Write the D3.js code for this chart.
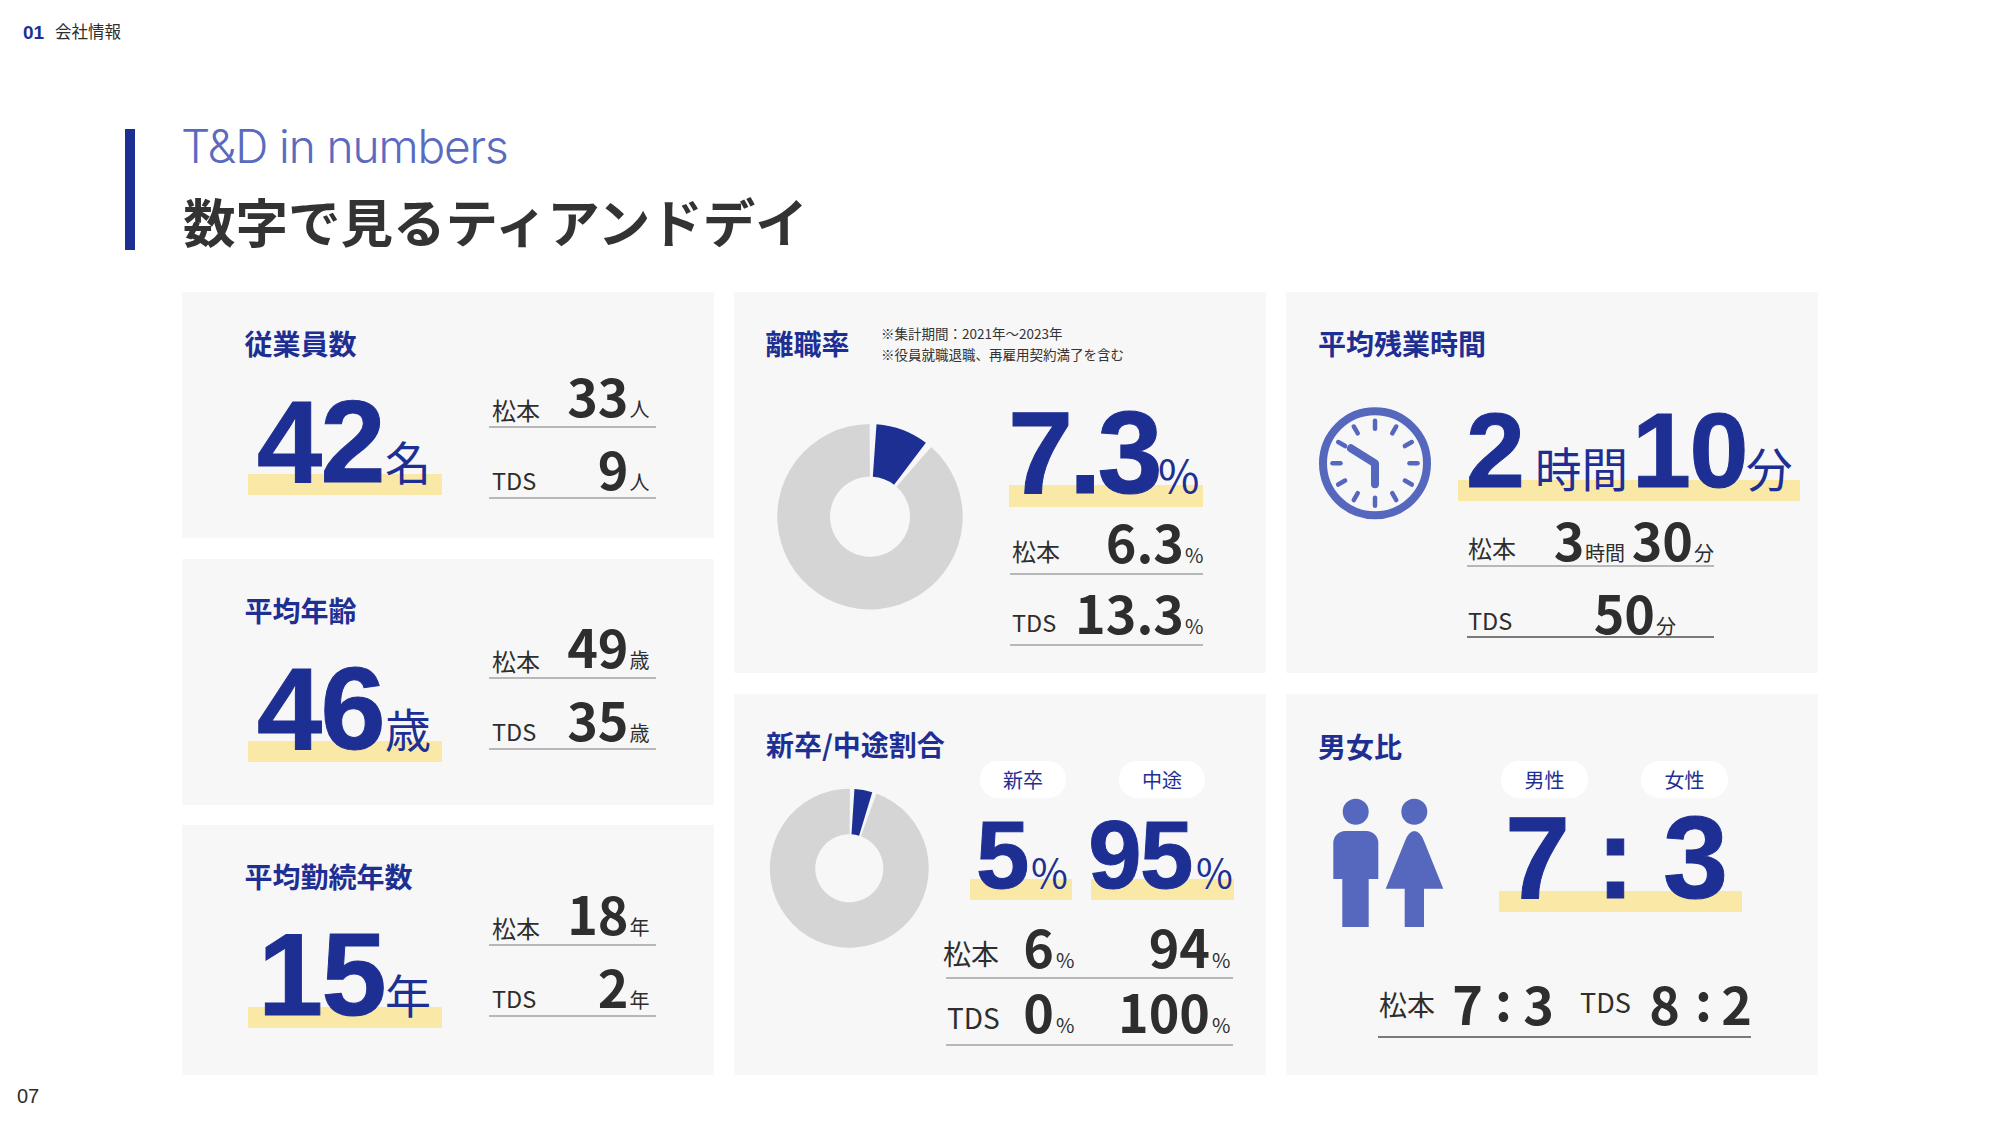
<!DOCTYPE html>
<html lang="ja">
<head>
<meta charset="utf-8">
<script src="https://cdn.jsdelivr.net/npm/d3@7"></script>
<style>
html,body{margin:0;padding:0;background:#fff;}
svg{display:block;}
</style>
</head>
<body>
<div id="chart"></div>
<script>
// ---- data ----
const sectionNumber = "01";
const sectionName = "会社情報";
const titleEn = "T&D in numbers";
const titleJa = "数字で見るティアンドデイ";
const pageNumber = "07";
const siteNames = ["松本", "TDS"];

const cardTitles = ["従業員数", "平均年齢", "平均勤続年数", "離職率", "新卒/中途割合", "平均残業時間", "男女比"];
const personCounts = [42, 33, 9];
const ageValues = [46, 49, 35];
const tenureValues = [15, 18, 2];
const statUnits = ["名", "人", "歳", "年"];

const turnoverNotes = ["※集計期間：2021年〜2023年", "※役員就職退職、再雇用契約満了を含む"];
const turnoverLabels = ["7.3", "6.3", "13.3"];
const turnoverSlices = [9.4, 90.6];

const hireTypes = ["新卒", "中途"];
const hireTotal = [5, 95];
const hireMatsumoto = [6, 94];
const hireTds = [0, 100];
const hireSlices = [3.7, 96.3];

const overtimeTotal = [2, 10];
const overtimeMatsumoto = [3, 30];
const overtimeTds = [50];
const overtimeUnits = ["時間", "分"];

const genderNames = ["男性", "女性"];
const genderTotal = [7, 3];
const genderMatsumoto = [7, 3];
const genderTds = [8, 2];

// ---- styles ----
const NAVY = "#1e2f94", ICON = "#5668bd", YELLOW = "#fae8a6", CARD = "#f7f7f7",
      GREY = "#d5d5d5", INK = "#2e2e2e", RULE = "#7a7a7a";
const HELV = "'Liberation Sans', Arial, sans-serif";
const CJK = "'Noto Sans CJK JP', 'Noto Sans', sans-serif";

const svg = d3.select("#chart").append("svg")
  .attr("width", 2000).attr("height", 1125).attr("viewBox", "0 0 2000 1125");
svg.append("rect").attr("width", 2000).attr("height", 1125).attr("fill", "#fff");

function rect(x0, y0, x1, y1, fill, rx) {
  return svg.append("rect").attr("x", x0).attr("y", y0).attr("width", x1 - x0).attr("height", y1 - y0)
    .attr("fill", fill).attr("rx", rx || 0);
}
function txt(x, y, s, size, o) {
  o = o || {};
  return svg.append("text").attr("x", x).attr("y", y).text(s)
    .attr("font-size", size)
    .attr("font-family", o.font || CJK)
    .attr("font-weight", o.weight || 400)
    .attr("fill", o.fill || INK)
    .attr("text-anchor", o.anchor || "start")
    .style("letter-spacing", o.ls || null);
}
function rule(x0, x1, y, w) {
  svg.append("line").attr("x1", x0).attr("x2", x1).attr("y1", y).attr("y2", y)
    .attr("stroke", RULE).attr("stroke-width", w || 1.2);
}
const big = (x, y, s, size, anchor, ls) => txt(x, y, s, size, {font: HELV, weight: 700, fill: NAVY, anchor: anchor, ls: ls || "-1.5px"})
  .attr("stroke", NAVY).attr("stroke-width", 1);
const unit = (x, y, s, size) => txt(x, y, s, size, {fill: NAVY});
const num = (x, y, s, size, anchor) => txt(x, y, s, size || 52, {weight: 700, anchor: anchor || "end"});
const cardTitle = (x, y, s) => txt(x, y, s, 28, {weight: 700, fill: NAVY});

// ---- header ----
txt(23, 39, sectionNumber, 19, {font: HELV, weight: 700, fill: NAVY});
txt(55, 38, sectionName, 16.5, {fill: INK});
rect(125, 129, 135, 250, NAVY);
txt(181, 162.5, titleEn, 46, {font: "Inter, 'Liberation Sans', sans-serif", weight: 300, fill: "#5a6bbf", ls: "-1.1px"});
txt(183, 243, titleJa, 52.5, {weight: 700, fill: "#333"});
txt(17, 1103, pageNumber, 20, {font: HELV, fill: INK});

// ---- cards ----
[[182, 292, 714, 538], [182, 559, 714, 805], [182, 825, 714, 1075],
 [734, 292, 1266, 673], [734, 694, 1266, 1075],
 [1286, 292, 1818, 673], [1286, 694, 1818, 1075]
].forEach(c => rect(c[0], c[1], c[2], c[3], CARD));

// ---- left column stat cards ----
function statCard(top, title, values, mainUnit, subUnit, row1, row2, bigX) {
  cardTitle(244.5, top + 63, title);
  rect(248, top + 182, 442, top + 203, YELLOW);
  big(bigX, top + 190, values[0], 117);
  unit(385, top + 188, mainUnit, 46);
  [[row1, 0], [row2, 1]].forEach(([y, i]) => {
    txt(492, top + y + (i === 0 ? 3 : 0), siteNames[i], i === 0 ? 24 : 23.5);
    num(628.5, top + y, values[i + 1]);
    txt(629.5, top + y, subUnit, 20);
    rule(489, 656, top + y + (i === 0 ? 10 : 8));
  });
}
statCard(292, cardTitles[0], personCounts, statUnits[0], statUnits[1], 125, 198, 257);
statCard(559, cardTitles[1], ageValues, statUnits[2], statUnits[2], 109, 182, 257);
statCard(825, cardTitles[2], tenureValues, statUnits[3], statUnits[3], 110, 183, 258);

// ---- donuts ----
function donut(cx, cy, R, r, values, gapDeg, startDeg) {
  const rad = Math.PI / 180;
  const pa = gapDeg * rad;
  const pie = d3.pie().sort(null).padAngle(pa)
    .startAngle(startDeg * rad).endAngle((startDeg + 360) * rad);
  const arc = d3.arc().innerRadius(r).outerRadius(R);
  svg.append("g").attr("transform", `translate(${cx},${cy})`)
    .selectAll("path").data(pie(values)).join("path")
    .attr("d", d => arc({startAngle: d.startAngle + pa / 2, endAngle: d.endAngle - pa / 2}))
    .attr("fill", (d, i) => i === 0 ? NAVY : GREY);
}
donut(870, 516.7, 92.7, 40, turnoverSlices, 4.25, 1.9);
donut(849.3, 868.3, 79.5, 34, hireSlices, 3.2, 2.1);

// ---- turnover ----
cardTitle(765.5, 355, cardTitles[3]);
txt(881, 339, turnoverNotes[0], 13.5, {fill: "#333"});
txt(881, 360, turnoverNotes[1], 13.5, {fill: "#333"});
rect(1009, 485, 1203, 507, YELLOW);
big(1008, 493, turnoverLabels[0], 117, "start", "-4px");
unit(1158, 493, "%", 45);
txt(1012, 561, siteNames[0], 24);
num(1184, 563, turnoverLabels[1]);
txt(1185, 563, "%", 20);
rule(1010, 1203, 574);
txt(1012, 632, siteNames[1], 23.5);
num(1184, 634, turnoverLabels[2]);
txt(1185, 634, "%", 20);
rule(1010, 1203, 645);

// ---- overtime ----
cardTitle(1318, 355, cardTitles[5]);
const clock = svg.append("g").attr("transform", "translate(1375,463.3)");
clock.append("circle").attr("r", 52).attr("fill", "none").attr("stroke", ICON).attr("stroke-width", 8);
clock.selectAll("line.t").data(d3.range(12)).join("line").attr("class", "t")
  .attr("x1", d => 34.5 * Math.sin(d * Math.PI / 6)).attr("y1", d => -34.5 * Math.cos(d * Math.PI / 6))
  .attr("x2", d => 42.5 * Math.sin(d * Math.PI / 6)).attr("y2", d => -42.5 * Math.cos(d * Math.PI / 6))
  .attr("stroke", ICON).attr("stroke-width", 4.5).attr("stroke-linecap", "round");
clock.append("polyline").attr("points", "-24,-15 0,0 0,21").attr("fill", "none").attr("stroke", ICON)
  .attr("stroke-width", 8).attr("stroke-linecap", "round").attr("stroke-linejoin", "round");

rect(1458, 480, 1800, 501, YELLOW);
big(1466, 487, overtimeTotal[0], 106);
unit(1535, 487, overtimeUnits[0], 46.5);
big(1632, 487, overtimeTotal[1], 106);
unit(1746, 487, overtimeUnits[1], 46.5);

txt(1468, 558, siteNames[0], 24);
num(1584.5, 561, overtimeMatsumoto[0]);
txt(1585, 561, overtimeUnits[0], 20);
num(1693, 561, overtimeMatsumoto[1]);
txt(1694, 561, overtimeUnits[1], 20);
rule(1467, 1714, 566);
txt(1468, 630, siteNames[1], 23.5);
num(1655, 634, overtimeTds[0]);
txt(1656, 634, overtimeUnits[1], 20);
rule(1467, 1714, 637, 2);

// ---- hires ----
cardTitle(766, 756, cardTitles[4]);
[[980, 1066], [1119, 1205]].forEach((p, i) => {
  rect(p[0], 761, p[1], 798, "#fff", 18);
  txt((p[0] + p[1]) / 2, 788, hireTypes[i], 20, {fill: NAVY, anchor: "middle"});
});
rect(970, 879, 1072, 900, YELLOW);
rect(1091, 879, 1234, 900, YELLOW);
big(1028, 888, hireTotal[0], 96, "end");
unit(1031, 888, "%", 40);
big(1192, 888, hireTotal[1], 96, "end");
unit(1196, 888, "%", 40);
[[hireMatsumoto, 968, 978, 943, 965], [hireTds, 1033, 1045, 947, 1029]].forEach(([v, y, ly, lx, ty], i) => {
  txt(lx, ty, siteNames[i], 28);
  num(1054, y, v[0]);
  txt(1056, y, "%", 20);
  num(1210, y, v[1]);
  txt(1212, y, "%", 20);
  rule(946, 1233, ly);
});

// ---- gender ----
cardTitle(1318, 758, cardTitles[6]);
[[1501, 1588], [1641, 1728]].forEach((p, i) => {
  rect(p[0], 761, p[1], 798, "#fff", 18);
  txt((p[0] + p[1]) / 2, 788, genderNames[i], 20, {fill: NAVY, anchor: "middle"});
});
const people = svg.append("g").attr("fill", ICON);
people.append("circle").attr("cx", 1355.7).attr("cy", 811.7).attr("r", 13);
people.append("circle").attr("cx", 1414.3).attr("cy", 811.7).attr("r", 13);
people.append("path").attr("d", "M1333.3 879V843a12 12 0 0 1 12-12h21a12 12 0 0 1 12 12V879H1368.7V927H1342.3V879Z");
people.append("path").attr("d", "M1385.7 888.7L1405 841Q1409 831 1414.3 831Q1420 831 1424 841L1443.3 888.7H1424V927H1404.7V888.7Z");

rect(1499, 891, 1742, 912, YELLOW);
big(1505, 898, genderTotal[0], 117);
big(1596, 898, ":", 117);
big(1663, 898, genderTotal[1], 117);

txt(1379, 1016, siteNames[0], 28);
num(1483, 1025, genderMatsumoto[0]);
num(1512, 1021, ":", 52);
num(1554, 1025, genderMatsumoto[1]);
txt(1580, 1013, siteNames[1], 27);
num(1680, 1025, genderTds[0]);
num(1712, 1021, ":", 52);
num(1752, 1025, genderTds[1]);
rule(1378, 1751, 1037, 2);
</script>
</body>
</html>
